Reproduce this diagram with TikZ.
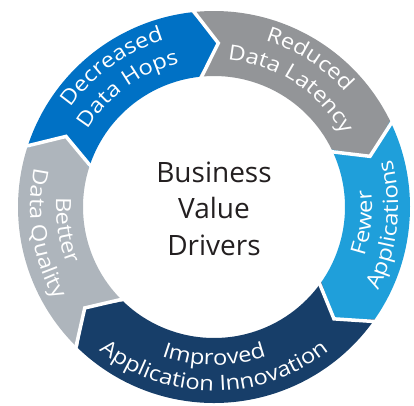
\documentclass[tikz,border=0pt]{standalone}
\usepackage{fontspec}
\setmainfont{Open Sans}
\newfontfamily\ringfont[FakeStretch=1.13]{Open Sans}
\newfontfamily\centerfont{Open Sans}
\usetikzlibrary{decorations.text}
\definecolor{cBlue}{HTML}{0071C5}
\definecolor{cGray}{HTML}{939598}
\definecolor{cLight}{HTML}{1F9FDA}
\definecolor{cNavy}{HTML}{173E69}
\definecolor{cSilver}{HTML}{AEB5BC}
\definecolor{cText}{HTML}{231F20}
\newcommand\Ro{196}
\newcommand\Ri{131}
\newcommand\Rm{164}
\newcommand\dl{8}
\newcommand\ringtext{\ringfont\fontsize{21}{25}\selectfont\color{white}}
% segment from angle #1 clockwise to #2, colour #3
\newcommand\ringseg[3]{%
  \fill[#3] (#1:\Ro pt) arc[start angle=#1, end angle=#2, radius=\Ro pt]
    -- ({#2-\dl}:\Rm pt) -- (#2:\Ri pt)
    arc[start angle=#2, end angle=#1, radius=\Ri pt]
    -- ({#1-\dl}:\Rm pt) -- cycle;}
\newcommand\ringsep[1]{%
  \draw[sep] (#1:\Ro pt+4pt) -- ({#1-\dl}:\Rm pt) -- (#1:\Ri pt-4pt);}
% clockwise label (tops outward): centre angle #1, radius #2, text #3
\newcommand\cwlabel[3]{%
  \path[decorate, decoration={text along path, text align=center,
    text={|\ringtext|#3}}]
    ({#1+70}:#2 pt) arc[start angle={#1+70}, end angle={#1-70}, radius=#2 pt];}
% counter-clockwise label (tops inward)
\newcommand\ccwlabel[3]{%
  \path[decorate, decoration={text along path, text align=center,
    text={|\ringtext|#3}}]
    ({#1-70}:#2 pt) arc[start angle={#1-70}, end angle={#1+70}, radius=#2 pt];}
\tikzset{
  sep/.style={draw=white, line width=3.5pt, line join=miter},
  centre/.style={font=\centerfont\fontsize{28}{36}\selectfont, text=cText, anchor=base, inner sep=0pt}
}
\begin{document}
\begin{tikzpicture}[x=1pt,y=1pt]
\useasboundingbox (-214,-198) rectangle (200,207);
\ringseg{162.5}{96.5}{cBlue}
\ringseg{96.5}{26}{cGray}
\ringseg{26}{-35}{cLight}
\ringseg{-35}{-134}{cNavy}
\ringseg{-134}{-197.5}{cSilver}
\ringsep{96.5}
\ringsep{26}
\ringsep{-35}
\ringsep{-134}
\ringsep{162.5}
\cwlabel{126}{174}{Decreased}
\cwlabel{126}{148}{Data Hops}
\cwlabel{57}{174}{Reduced}
\cwlabel{57}{148}{Data Latency}
\ccwlabel{-6}{158}{Fewer}
\ccwlabel{-6}{184}{Applications}
\ccwlabel{-90}{158}{Improved}
\ccwlabel{-90}{184}{Application Innovation}
\ccwlabel{189}{158}{Better}
\ccwlabel{189}{184}{Data Quality}
\node[centre] (l1) at (0,25) {Business};
\node[centre] (l2) at (0,-11) {Value};
\node[centre] (l3) at (0,-48) {Drivers};
\end{tikzpicture}
\end{document}
